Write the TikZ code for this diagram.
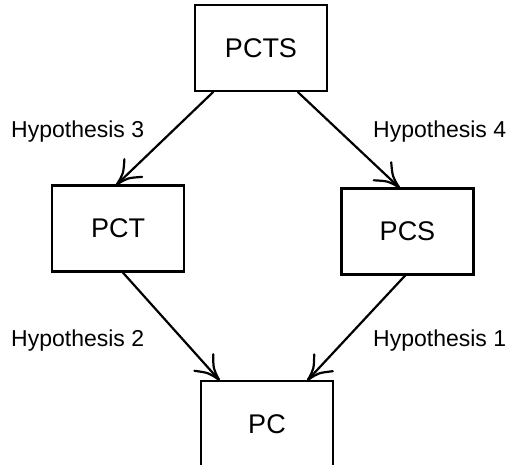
\documentclass[tikz,border=0pt]{standalone}
\usepackage{fontspec}
\setmainfont{Liberation Sans}
\usetikzlibrary{calc}

% open curved barbs at tip #1; #2,#4 are the barb ends, #3,#5 their control points
\newcommand\openbarbs[5]{%
  \draw[link] ($(#1)+(#2)$) .. controls ($(#1)+(#3)$) .. (#1)
              .. controls ($(#1)+(#5)$) .. ($(#1)+(#4)$);
}

\begin{document}
\begin{tikzpicture}[x=1pt,y=-1pt,
  box/.style={draw, line width=2.4pt, minimum width=132pt, minimum height=86pt,
              inner sep=0pt, font=\fontsize{27}{32}\selectfont},
  hyp/.style={inner sep=0pt, anchor=base west, font=\fontsize{23}{28}\selectfont},
  link/.style={line width=2.2pt, line cap=round, line join=round}
]
  \clip (0,0) rectangle (512,465);
  \fill[white] (0,0) rectangle (512,465);

  % hypothesis lattice
  \node[box] (pcts) at (261,48)    {PCTS};
  \node[box] (pct)  at (118,228.5) {PCT};
  \node[box] (pcs)  at (407.5,231.5) {PCS};
  \node[box] (pc)   at (267,424)   {PC};

  \coordinate (s1) at ($(pcts.south)+(-48,0)$);
  \coordinate (t1) at ($(pct.north)+(-1,0)$);
  \coordinate (s2) at ($(pcts.south)+(37,0)$);
  \coordinate (t2) at ($(pcs.north)+(-8.5,0)$);
  \coordinate (s3) at ($(pct.south)+(5,0)$);
  \coordinate (t3) at ($(pc.north)+(-48,0)$);
  \coordinate (s4) at ($(pcs.south)+(-2.5,0)$);
  \coordinate (t4) at ($(pc.north)+(41,0)$);

  \draw[link] (s1) -- (t1);
  \draw[link] (s2) -- (t2);
  \draw[link] (s3) -- (t3);
  \draw[link] (s4) -- (t4);

  \openbarbs{t1}{25.1,-7.4}{10.6,-6.4}{7.4,-25.1}{6.4,-10.6}
  \openbarbs{t2}{-7.8,-25.0}{-6.5,-10.6}{-25.2,-7.0}{-10.7,-6.2}
  \openbarbs{t3}{-5.8,-25.6}{-5.7,-11.0}{-24.6,-9.0}{-10.2,-7.0}
  \openbarbs{t4}{24.8,-8.6}{10.3,-6.9}{6.2,-25.4}{5.9,-10.9}

  \node[hyp] (h3) at (11,138) {Hypothesis 3};
  \node[hyp] (h4) at (373,138)  {Hypothesis 4};
  \node[hyp] (h2) at (11,347) {Hypothesis 2};
  \node[hyp] (h1) at (373,347)  {Hypothesis 1};
\end{tikzpicture}
\end{document}
